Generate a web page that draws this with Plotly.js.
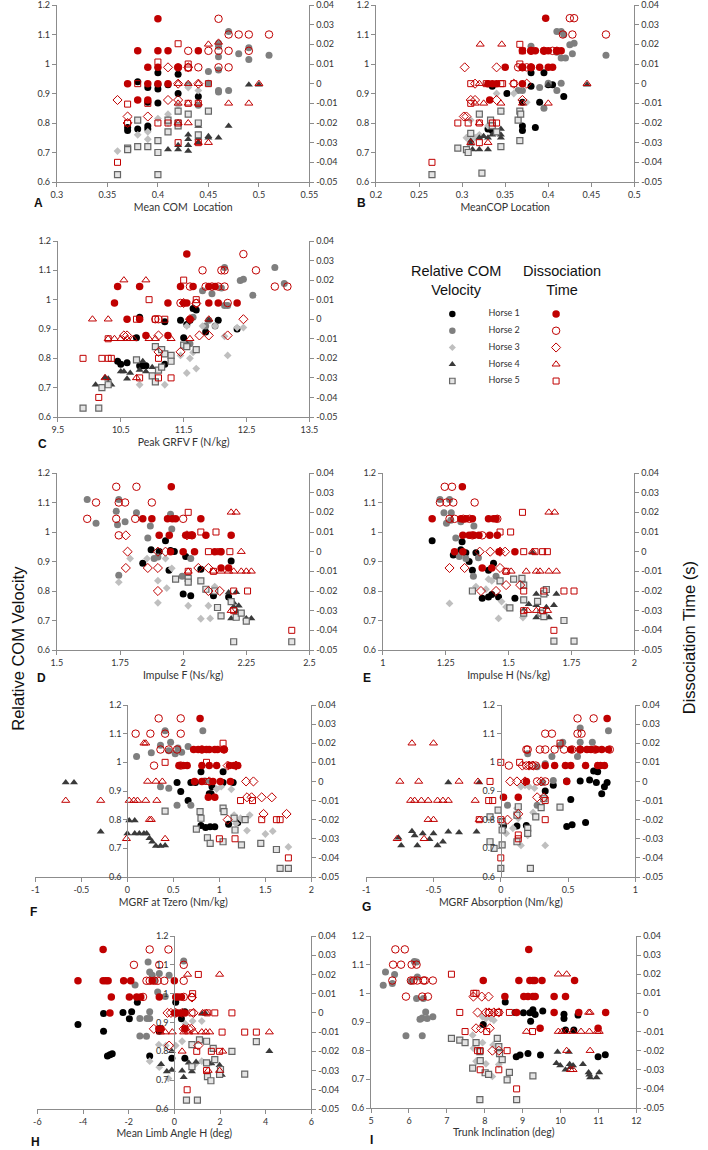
<!DOCTYPE html>
<html>
<head>
<meta charset="utf-8">
<script src="https://cdn.plot.ly/plotly-3.0.1.min.js"></script>
<style>
  html, body { margin: 0; padding: 0; background: #fff; }
  #chart { width: 708px; height: 1150px; }
</style>
</head>
<body>
<div id="chart"></div>
<script>
'use strict';

// --- data: flat x,y pairs, one list per horse (Horse 1..5) ---
const horses = ['Horse 1', 'Horse 2', 'Horse 3', 'Horse 4', 'Horse 5'];
const xTitles = ['Mean COM  Location', 'MeanCOP Location', 'Peak GRFV F (N/kg)', 'Impulse F (Ns/kg)',
  'Impulse H (Ns/kg)', 'MGRF at Tzero (Nm/kg)', 'MGRF Absorption (Nm/kg)', 'Mean Limb Angle H (deg)',
  'Trunk Inclination (deg)'];
const letters = ['A', 'B', 'C', 'D', 'E', 'F', 'G', 'H', 'I'];

// relative COM velocity (left axis)
const velA = [
  [0.37,0.775, 0.37,0.785, 0.38,0.78, 0.38,0.94, 0.39,0.92, 0.39,0.79, 0.39,0.78, 0.40,0.97, 0.40,0.93, 0.40,0.915, 0.40,0.868, 0.41,0.93, 0.42,0.965, 0.42,0.90, 0.44,0.89, 0.39,0.87],
  [0.43,0.93, 0.44,0.86, 0.45,0.935, 0.45,0.975, 0.46,1.07, 0.46,1.06, 0.46,1.025, 0.46,0.98, 0.46,0.91, 0.46,0.905, 0.47,1.11, 0.47,0.91, 0.48,1.035, 0.49,1.055, 0.49,1.015, 0.51,1.03],
  [0.36,0.705, 0.38,0.76, 0.39,0.77, 0.39,0.745, 0.40,0.815, 0.41,0.83, 0.42,0.86, 0.43,0.92, 0.44,0.91, 0.41,0.80, 0.42,0.80],
  [0.41,0.71, 0.42,0.725, 0.42,0.71, 0.43,0.76, 0.43,0.745, 0.43,0.725, 0.43,0.705, 0.44,0.79, 0.44,0.75, 0.44,0.735, 0.45,0.755, 0.45,0.75, 0.46,0.75, 0.47,0.79, 0.49,0.93, 0.50,0.93],
  [0.36,0.625, 0.37,0.715, 0.37,0.71, 0.38,0.81, 0.38,0.72, 0.39,0.72, 0.40,0.74, 0.40,0.70, 0.40,0.625, 0.41,0.81, 0.41,0.77, 0.42,0.84, 0.42,0.80, 0.42,0.79, 0.43,0.83, 0.44,0.80, 0.44,0.76, 0.45,0.84]
];
const velB = [
  [0.335,0.925, 0.352,0.90, 0.37,0.87, 0.37,0.79, 0.37,0.775, 0.38,0.97, 0.38,0.925, 0.385,0.785, 0.39,0.87, 0.395,0.97, 0.40,0.93, 0.405,0.93, 0.418,0.89, 0.33,0.78, 0.335,0.775],
  [0.40,0.935, 0.41,1.11, 0.415,1.11, 0.418,1.10, 0.41,1.04, 0.415,1.02, 0.42,1.02, 0.425,1.065, 0.43,1.07, 0.428,1.035, 0.467,1.03, 0.39,0.92, 0.41,0.91, 0.415,0.935, 0.395,0.85, 0.38,1.06, 0.37,0.91, 0.365,0.91],
  [0.305,0.75, 0.31,0.81, 0.315,0.75, 0.34,0.90, 0.345,0.84, 0.36,0.90, 0.37,0.93, 0.375,0.87, 0.33,0.79, 0.32,0.76],
  [0.31,0.73, 0.312,0.71, 0.32,0.75, 0.32,0.71, 0.325,0.755, 0.33,0.75, 0.33,0.71, 0.335,0.76, 0.345,0.78, 0.345,0.76, 0.345,0.75, 0.40,0.93, 0.445,0.93, 0.31,0.74],
  [0.265,0.625, 0.295,0.715, 0.305,0.71, 0.307,0.70, 0.31,0.765, 0.32,0.83, 0.323,0.63, 0.333,0.81, 0.335,0.79, 0.34,0.77, 0.345,0.84, 0.345,0.72, 0.365,0.81, 0.367,0.74, 0.367,0.84, 0.368,0.83]
];
const velC = [
  [10.45,0.79, 10.5,0.78, 10.6,0.785, 10.8,0.94, 10.75,0.87, 10.8,0.775, 10.85,0.775, 10.9,0.775, 11.2,0.925, 11.2,0.78, 11.45,0.93, 11.5,0.87, 11.55,0.915, 11.6,0.93, 11.65,0.97, 11.7,0.965, 11.85,0.89, 12.05,0.93, 12.35,0.90],
  [11.6,0.85, 11.65,0.94, 11.8,1.03, 11.85,0.91, 11.9,0.93, 11.95,1.02, 12.0,0.91, 12.1,1.04, 12.15,0.98, 12.15,1.11, 12.2,0.98, 12.4,1.065, 12.45,1.07, 12.6,1.015, 12.95,1.11, 13.1,1.055],
  [10.8,0.71, 11.2,0.71, 11.45,0.81, 11.55,0.75, 11.6,0.80, 11.65,0.82, 11.7,0.765, 11.8,0.91, 12.0,0.91, 12.15,0.875, 12.2,0.81, 12.35,0.905, 12.45,0.905, 11.55,0.91],
  [10.1,0.71, 10.25,0.735, 10.3,0.73, 10.3,0.715, 10.35,0.71, 10.5,0.755, 10.55,0.755, 10.6,0.73, 10.65,0.75, 10.8,0.76, 10.85,0.79, 10.9,0.755, 11.0,0.77, 11.9,0.93, 11.55,0.85],
  [9.9,0.63, 10.15,0.63, 10.2,0.70, 10.3,0.71, 10.75,0.795, 11.0,0.74, 11.05,0.72, 11.05,0.84, 11.1,0.76, 11.15,0.83, 11.15,0.77, 11.2,0.815, 11.3,0.81, 11.3,0.79, 11.5,0.845, 11.7,0.83, 11.55,0.84]
];
const velD = [
  [1.84,0.894, 1.873,0.94, 1.905,0.934, 1.93,0.97, 1.944,0.87, 1.95,0.937, 1.965,0.934, 2.0,0.79, 2.01,0.917, 2.03,0.784, 2.07,0.874, 2.12,0.784, 2.18,0.78, 2.19,0.902],
  [1.62,1.11, 1.655,1.03, 1.735,1.07, 1.745,1.11, 1.74,1.025, 1.745,0.853, 1.77,1.035, 1.815,1.065, 1.87,1.02, 1.86,0.98, 1.885,0.91, 1.9,0.915, 1.95,1.06, 1.955,1.01, 1.996,0.85, 2.03,0.91],
  [1.745,0.83, 1.79,0.91, 1.857,0.91, 1.9,0.835, 1.9,0.76, 1.93,0.91, 1.935,0.81, 1.955,0.877, 2.02,0.75, 2.07,0.706, 2.107,0.707, 2.1,0.75, 2.125,0.815],
  [2.18,0.795, 2.2,0.76, 2.21,0.796, 2.2,0.747, 2.22,0.75, 2.19,0.707, 2.25,0.707, 2.27,0.707, 2.215,0.73],
  [1.97,0.84, 2.02,0.843, 2.02,0.83, 2.07,0.834, 2.09,0.806, 2.125,0.80, 2.136,0.744, 2.15,0.716, 2.19,0.764, 2.2,0.628, 2.21,0.711, 2.23,0.725, 2.25,0.698, 2.43,0.628]
];
const velE = [
  [1.196,0.97, 1.28,0.922, 1.315,0.967, 1.31,0.94, 1.33,0.93, 1.343,0.90, 1.356,0.87, 1.37,0.93, 1.395,0.775, 1.42,0.78, 1.433,0.788, 1.44,0.894, 1.46,0.78, 1.525,0.775, 1.42,0.87],
  [1.227,1.11, 1.243,1.065, 1.265,1.11, 1.272,1.065, 1.253,1.03, 1.27,1.04, 1.29,0.98, 1.304,0.917, 1.33,0.91, 1.36,0.85, 1.362,1.02, 1.38,0.913, 1.45,0.85, 1.31,1.035],
  [1.265,0.758, 1.37,0.815, 1.41,0.806, 1.433,0.834, 1.46,0.707, 1.472,0.764, 1.49,0.746, 1.557,0.71, 1.42,0.84],
  [1.56,0.735, 1.58,0.755, 1.61,0.79, 1.61,0.752, 1.61,0.71, 1.645,0.79, 1.65,0.745, 1.66,0.71, 1.68,0.752, 1.69,0.79, 1.595,0.93],
  [1.356,0.80, 1.466,0.834, 1.505,0.743, 1.52,0.84, 1.553,0.843, 1.56,0.82, 1.56,0.77, 1.615,0.765, 1.628,0.725, 1.64,0.79, 1.65,0.805, 1.64,0.713, 1.68,0.63, 1.72,0.70, 1.76,0.63, 1.56,0.725]
];
const velF = [
  [0.54,0.93, 0.58,0.898, 0.66,0.867, 0.69,0.93, 0.74,0.93, 0.80,0.967, 0.80,0.78, 0.85,0.773, 0.90,0.775, 0.95,0.775, 0.91,0.89, 0.92,0.915, 1.04,0.967, 1.04,0.93, 1.10,0.784, 1.20,0.79, 1.15,0.93, 0.89,0.89],
  [0.10,1.02, 0.26,1.033, 0.41,1.11, 0.36,1.06, 0.45,1.04, 0.47,1.07, 0.52,1.03, 0.55,1.05, 0.54,0.85, 0.66,1.055, 0.82,1.11, 0.69,0.85, 0.36,0.915, 0.45,0.91, 0.84,0.935, 0.91,0.933, 0.59,1.035],
  [0.97,0.907, 1.02,0.915, 1.13,0.906, 1.16,0.816, 1.18,0.787, 1.30,0.762, 1.33,0.816, 1.50,0.75, 1.58,0.76, 1.75,0.705, 1.23,0.805],
  [-0.67,0.93, -0.58,0.93, -0.29,0.758, 0.02,0.797, 0.08,0.797, 0.0,0.752, 0.08,0.752, 0.13,0.752, 0.18,0.752, 0.21,0.752, 0.27,0.723, 0.31,0.708, 0.36,0.708, 0.41,0.71, 0.24,0.735],
  [0.41,0.83, 0.75,0.767, 0.79,0.828, 0.80,0.805, 0.87,0.737, 0.90,0.717, 1.04,0.723, 1.04,0.84, 1.16,0.805, 1.17,0.764, 1.24,0.712, 1.28,0.80, 1.45,0.717, 1.62,0.696, 1.66,0.63, 1.75,0.63, 1.05,0.828]
];
const velG = [
  [0.33,0.90, 0.39,0.92, 0.49,0.935, 0.59,0.935, 0.66,0.938, 0.71,0.93, 0.69,0.97, 0.72,0.967, 0.75,0.89, 0.77,0.915, 0.79,0.93, 0.52,0.87, 0.49,0.776, 0.53,0.782, 0.63,0.79, 0.19,0.78, 0.12,0.778, 0.02,0.778],
  [0.20,1.03, 0.27,0.985, 0.33,0.995, 0.38,1.02, 0.44,1.06, 0.46,1.07, 0.59,1.12, 0.59,1.07, 0.68,1.07, 0.80,1.11, 0.05,0.85, 0.27,0.85, 0.31,0.93, 0.39,0.937, 0.57,1.02],
  [0.04,0.752, 0.09,0.77, 0.12,0.84, 0.15,0.915, 0.18,0.92, 0.21,0.915, 0.13,0.805, 0.20,0.745, 0.24,0.825, 0.15,0.71, 0.33,0.71, 0.25,0.91],
  [-0.76,0.737, -0.74,0.71, -0.66,0.76, -0.64,0.745, -0.62,0.71, -0.58,0.752, -0.53,0.732, -0.50,0.752, -0.47,0.71, -0.43,0.723, -0.39,0.758, -0.31,0.755, -0.18,0.758, -0.39,0.93, -0.16,0.93],
  [-0.08,0.81, -0.08,0.723, -0.05,0.70, -0.02,0.833, 0.01,0.793, 0.01,0.764, 0.01,0.712, 0.12,0.723, 0.12,0.816, 0.13,0.845, 0.20,0.77, 0.20,0.752, 0.26,0.81, 0.30,0.842, 0.32,0.873, 0.44,0.844, 0.0,0.63, 0.22,0.63]
];
const velH = [
  [-4.22,0.893, -3.1,0.931, -3.1,0.87, -2.93,0.784, -2.82,0.788, -2.72,0.792, -2.25,0.935, -1.97,0.913, -1.87,0.937, -1.62,0.97, -1.08,0.784, -0.66,0.87, -0.11,0.776, 0.06,0.97, 0.46,0.776, 0.46,0.937, 0.31,0.913],
  [-1.15,1.11, -1.08,1.075, -0.97,1.064, -0.87,1.046, -1.72,1.03, -1.51,0.914, -1.2,0.914, -1.08,0.914, -1.51,0.853, -1.22,0.852, -1.08,0.937, -0.73,1.006, -0.4,0.99, 0.41,1.113, -0.23,1.064, -0.66,1.07],
  [-0.68,0.823, -1.08,0.766, -0.66,0.745, -0.37,0.82, 0.06,0.82, 0.34,0.835, 0.48,0.895, 0.8,0.905, 1.2,0.905, 0.91,0.755, 1.2,0.766, -0.26,0.706],
  [-0.11,0.80, -0.58,0.755, -0.33,0.73, -0.11,0.735, 0.34,0.733, 0.41,0.71, 0.63,0.76, 0.95,0.763, 0.77,0.73, 1.22,0.93, 1.37,0.93, 1.48,0.758, 1.62,0.758, 1.98,0.752, 2.08,0.718, 4.16,0.80, 0.34,0.93],
  [0.77,0.823, 1.1,0.84, 1.41,0.835, 1.41,0.76, 1.45,0.712, 1.6,0.698, 1.7,0.81, 1.77,0.771, 1.98,0.72, 2.02,0.737, 2.52,0.80, 3.08,0.721, 3.59,0.834, 0.53,0.631, 1.01,0.631, 0.77,0.747]
];
const velI = [
  [8.54,0.97, 7.96,0.891, 8.8,0.933, 9.02,0.932, 9.19,0.932, 9.21,0.903, 9.27,0.943, 9.33,0.926, 9.53,0.938, 8.83,0.779, 8.93,0.785, 9.14,0.79, 9.47,0.785, 10.09,0.927, 10.09,0.912, 10.13,0.872, 10.35,0.872, 10.46,0.924, 10.99,0.779, 11.18,0.786],
  [5.32,1.028, 5.38,1.074, 5.56,1.034, 5.62,1.066, 5.92,0.852, 6.05,1.042, 6.14,1.111, 6.2,1.109, 6.22,1.057, 6.2,0.982, 6.38,0.982, 6.35,0.852, 6.35,0.914, 6.44,0.935, 6.48,0.912, 6.63,0.918, 6.29,0.91],
  [7.68,0.854, 7.94,0.828, 8.03,0.912, 8.16,0.912, 8.22,0.82, 7.94,0.918, 8.03,0.754, 8.2,0.71, 7.77,0.763, 8.37,0.752, 7.7,0.808, 8.24,0.906],
  [9.92,0.795, 9.89,0.756, 9.99,0.748, 10.13,0.733, 10.22,0.795, 10.24,0.753, 10.33,0.748, 10.59,0.753, 10.74,0.724, 10.78,0.706, 10.95,0.706, 11.02,0.724, 10.26,0.742, 10.76,0.716],
  [7.12,0.843, 7.34,0.837, 7.48,0.828, 7.68,0.739, 7.77,0.828, 7.87,0.797, 7.88,0.765, 7.87,0.629, 8.01,0.723, 8.1,0.717, 8.37,0.814, 8.39,0.79, 8.46,0.769, 8.65,0.724, 8.59,0.698, 8.84,0.629, 9.27,0.712, 8.33,0.843]
];

// dissociation time in s (right axis)
const dtA = [
  [0.40,0.033, 0.38,0.0167, 0.40,0.0167, 0.41,0.0167, 0.44,0.0167, 0.39,0.0083, 0.40,0.0083, 0.42,0.0083, 0.37,0, 0.39,0, 0.40,0, 0.41,0, 0.38,-0.0083, 0.39,-0.0083],
  [0.46,0.033, 0.47,0.025, 0.48,0.025, 0.49,0.025, 0.51,0.025, 0.43,0.0167, 0.45,0.0167, 0.46,0.0167, 0.47,0.0167, 0.49,0.0167, 0.42,0.0083, 0.43,0.0083, 0.44,0.0083, 0.46,0.0083, 0.47,0.0083],
  [0.36,-0.0083, 0.37,-0.0167, 0.37,-0.02, 0.39,-0.0167, 0.41,0.0083, 0.42,0, 0.41,-0.0083, 0.42,-0.0083, 0.44,0, 0.43,0.0083],
  [0.45,0.02, 0.46,0.021, 0.42,0, 0.43,0, 0.44,0, 0.47,-0.01, 0.49,-0.01, 0.42,-0.01, 0.43,-0.01, 0.44,-0.01, 0.42,-0.02, 0.43,-0.02, 0.45,-0.03, 0.44,-0.03, 0.50,0],
  [0.42,0.0203, 0.40,0.011, 0.43,0.01, 0.43,0.008, 0.37,-0.0104, 0.36,-0.04, 0.38,0, 0.39,-0.01, 0.40,-0.02, 0.41,-0.02, 0.42,-0.02, 0.42,-0.03, 0.43,-0.01, 0.44,-0.03, 0.45,0, 0.44,-0.01, 0.37,-0.02]
];
const dtB = [
  [0.397,0.0333, 0.37,0.0167, 0.38,0.0167, 0.385,0.0167, 0.395,0.0167, 0.40,0.0167, 0.41,0.0167, 0.415,0.0167, 0.35,0.0083, 0.37,0.0083, 0.38,0.0083, 0.39,0.0083, 0.40,0.0083, 0.405,0.0083, 0.33,0, 0.335,0, 0.34,0, 0.37,0, 0.332,-0.0083],
  [0.425,0.0333, 0.43,0.0333, 0.417,0.025, 0.428,0.025, 0.467,0.025, 0.38,0.0167, 0.395,0.0167, 0.405,0.0167, 0.41,0.0167, 0.37,0.0083, 0.375,0.0083, 0.38,0.0083, 0.365,0.0083],
  [0.303,0.0083, 0.34,0.0083, 0.315,0, 0.36,0, 0.31,-0.0083, 0.315,-0.0083, 0.34,-0.0083, 0.302,-0.0167, 0.305,-0.0167, 0.37,-0.0083, 0.375,0],
  [0.321,0.02, 0.346,0.02, 0.32,0, 0.33,0, 0.315,-0.01, 0.325,-0.01, 0.345,-0.01, 0.37,-0.01, 0.40,-0.01, 0.31,-0.03, 0.33,-0.03, 0.445,0, 0.32,-0.02],
  [0.265,-0.04, 0.295,-0.02, 0.307,-0.02, 0.31,-0.01, 0.32,-0.02, 0.32,-0.03, 0.328,0, 0.335,-0.02, 0.345,0, 0.347,0, 0.36,0, 0.367,0.01, 0.367,0.02, 0.37,0.0167, 0.31,0, 0.34,-0.02]
];
const dtC = [
  [11.55,0.0333, 10.45,0.0167, 10.8,0.0167, 11.45,0.0167, 11.65,0.0167, 11.9,0.0167, 12.0,0.0167, 10.4,0.0083, 11.25,0.0083, 11.5,0.0083, 11.55,0.0083, 11.9,0.0083, 12.05,0.0083, 12.35,0.0083, 10.6,0, 10.8,0, 11.6,0, 10.9,-0.0083, 11.25,-0.0083],
  [12.45,0.0333, 11.8,0.025, 12.1,0.025, 12.15,0.025, 12.65,0.025, 11.6,0.0167, 11.85,0.0167, 11.95,0.0167, 12.05,0.0167, 12.15,0.0167, 12.95,0.0167, 13.15,0.0167, 11.45,0.0083, 11.7,0.0083, 12.2,0.0083, 11.05,0, 11.1,0],
  [10.55,-0.0083, 10.6,-0.0083, 11.1,-0.0083, 11.1,-0.0167, 11.45,-0.0167, 11.75,-0.0083, 11.9,-0.0083, 12.2,-0.0083, 12.45,0, 11.6,0, 11.7,0.008, 11.5,0.0083],
  [10.05,0, 10.3,0, 10.55,0.02, 10.9,0.02, 10.3,-0.01, 10.4,-0.01, 10.5,-0.01, 10.6,-0.01, 10.7,-0.01, 10.95,-0.01, 11.05,-0.01, 11.3,-0.01, 11.6,-0.01, 10.25,-0.03, 10.75,-0.03, 11.9,0],
  [9.9,-0.02, 10.15,-0.04, 10.2,-0.02, 10.3,-0.02, 10.35,-0.02, 10.3,-0.01, 10.75,0, 10.95,0.01, 11.05,0, 11.1,-0.02, 11.1,-0.03, 11.3,-0.03, 11.5,0.02, 11.7,0.01, 11.2,0, 10.8,-0.03]
];
const dtD = [
  [1.953,0.033, 1.84,0.0167, 1.876,0.0167, 1.938,0.0167, 1.957,0.0167, 1.97,0.0167, 2.07,0.0167, 1.905,0.0083, 1.945,0.0083, 2.01,0.0083, 2.025,0.0083, 2.035,0.0083, 2.09,0.0083, 2.19,0.0083, 1.95,0, 2.0,0, 2.045,0, 2.125,0, 2.15,0, 2.15,-0.0083, 2.18,-0.0083],
  [1.62,0.0167, 1.655,0.025, 1.735,0.033, 1.815,0.033, 1.745,0.025, 1.77,0.025, 1.876,0.025, 1.735,0.0167, 1.81,0.0167, 1.745,0.0083, 2.0,0.0167, 2.035,0.0083],
  [1.773,0.0083, 1.78,0, 1.773,-0.0083, 1.86,-0.0083, 1.9,-0.0083, 1.93,0, 1.9,-0.02, 2.015,0.0083, 2.06,-0.0083, 2.1,-0.0083, 2.1,-0.02, 2.145,-0.02, 1.9,0],
  [2.19,0.02, 2.21,0.02, 2.23,0, 2.12,-0.01, 2.15,-0.01, 2.18,-0.01, 2.2,-0.01, 2.23,-0.01, 2.25,-0.01, 2.27,-0.01, 2.19,-0.03, 2.02,-0.01],
  [2.02,0.02, 2.07,0.01, 2.13,0.01, 2.1,0, 2.145,0, 2.185,0, 2.12,-0.01, 2.2,-0.02, 2.255,-0.02, 2.2,-0.03, 2.43,-0.04, 2.02,-0.01]
];
const dtE = [
  [1.316,0.033, 1.196,0.0167, 1.31,0.0167, 1.33,0.0167, 1.356,0.0167, 1.42,0.0167, 1.44,0.0167, 1.45,0.0167, 1.318,0.0083, 1.343,0.0083, 1.362,0.0083, 1.382,0.0083, 1.425,0.0083, 1.455,0.0083, 1.285,0, 1.318,0, 1.462,0, 1.525,0, 1.395,-0.0083, 1.433,-0.0083],
  [1.246,0.033, 1.275,0.033, 1.227,0.025, 1.253,0.025, 1.28,0.025, 1.365,0.025, 1.265,0.0167, 1.285,0.0167, 1.32,0.0167, 1.345,0.0167, 1.455,0.0167, 1.356,0.0083, 1.395,0.0083],
  [1.265,-0.0083, 1.325,-0.0083, 1.385,0, 1.427,0, 1.466,0, 1.486,0, 1.466,-0.0083, 1.49,-0.017, 1.546,-0.017, 1.39,-0.02, 1.45,-0.02],
  [1.66,0.02, 1.683,0.02, 1.595,0, 1.49,-0.01, 1.51,-0.01, 1.57,-0.01, 1.61,-0.01, 1.625,-0.01, 1.66,-0.01, 1.69,-0.01, 1.576,-0.03, 1.61,-0.03, 1.655,-0.03],
  [1.555,0.02, 1.466,0.01, 1.508,0.01, 1.56,0, 1.605,0, 1.635,0, 1.654,0, 1.49,-0.01, 1.56,-0.02, 1.64,-0.02, 1.72,-0.02, 1.76,-0.02, 1.68,-0.04, 1.56,-0.03, 1.635,-0.03]
];
const dtF = [
  [0.79,0.033, 0.72,0.0167, 0.77,0.0167, 0.81,0.0167, 0.86,0.0167, 0.89,0.0167, 0.95,0.0167, 0.98,0.0167, 1.05,0.0167, 0.56,0.0083, 0.61,0.0083, 0.65,0.0083, 0.81,0.0083, 0.89,0.0083, 0.97,0.0083, 1.11,0.0083, 1.16,0.0083, 1.2,0.0083, 0.73,0, 0.81,0, 0.93,0, 1.01,0, 1.12,0, 0.88,-0.0083, 0.95,-0.0083],
  [0.34,0.033, 0.58,0.033, 0.09,0.025, 0.25,0.025, 0.41,0.025, 0.58,0.025, 0.36,0.0167, 0.45,0.0167, 0.54,0.0167, 0.81,0.0167, 1.05,0.0167, 0.29,0.0083, 0.58,0.0083],
  [0.89,0, 1.09,0.0083, 1.18,0.0083, 1.29,0, 1.37,0, 1.3,-0.0083, 1.35,-0.0083, 1.46,-0.0083, 1.57,-0.0083, 1.48,-0.017, 1.73,-0.017, 1.09,-0.02],
  [0.18,0.02, 0.2,0.02, -0.67,-0.01, -0.29,-0.01, 0.02,-0.01, 0.07,-0.01, 0.11,-0.01, 0.2,-0.01, 0.22,0, 0.31,0, 0.38,0, 0.24,-0.02, 0.26,-0.02, -0.01,-0.03, 0.41,-0.03, 0.32,-0.01],
  [1.04,0.02, 0.86,0.01, 0.41,0.01, 1.23,-0.01, 1.36,-0.01, 1.46,-0.02, 1.62,-0.02, 1.66,-0.02, 0.87,0, 1.0,-0.03, 1.17,-0.03, 1.75,-0.04]
];
const dtG = [
  [0.79,0.033, 0.52,0.0167, 0.59,0.0167, 0.64,0.0167, 0.67,0.0167, 0.71,0.0167, 0.75,0.0167, 0.80,0.0167, 0.33,0.0083, 0.40,0.0083, 0.48,0.0083, 0.52,0.0083, 0.63,0.0083, 0.72,0.0083, 0.74,0.0083, 0.77,0.0083, 0.19,0, 0.49,0, 0.02,-0.0083, 0.13,-0.0083],
  [0.57,0.033, 0.69,0.033, 0.33,0.025, 0.38,0.025, 0.57,0.025, 0.60,0.025, 0.19,0.0167, 0.20,0.0167, 0.29,0.0167, 0.33,0.0167, 0.40,0.0167, 0.47,0.0167, 0.53,0.0167, 0.59,0.0167, 0.70,0.0167, 0.81,0.0167, 0.06,0.0083, 0.19,0.0083, 0.23,0.0083, 0.26,0.0083, 0.27,0, 0.33,0],
  [0.07,0, 0.12,0, 0.16,0.0083, 0.21,0.0083, 0.24,0.0083, 0.30,0, 0.27,-0.0083, 0.32,-0.0083, 0.13,-0.017, 0.05,-0.02, 0.18,0],
  [-0.66,0.02, -0.50,0.02, -0.75,0, -0.61,0, -0.31,0, -0.17,0, -0.67,-0.01, -0.64,-0.01, -0.59,-0.01, -0.54,-0.01, -0.47,-0.01, -0.43,-0.01, -0.39,-0.01, -0.19,-0.01, -0.54,-0.02, -0.50,-0.02, -0.77,-0.03, -0.57,-0.03, -0.16,-0.02],
  [0.0,0.01, 0.14,0.01, -0.08,0, 0.44,0.02, -0.09,-0.01, -0.06,-0.01, 0.0,-0.02, 0.13,-0.03, 0.13,-0.028, 0.33,-0.01, 0.33,-0.02, 0.0,-0.04, -0.16,-0.02]
];
const dtH = [
  [-3.12,0.033, -4.22,0.0167, -3.12,0.0167, -3.0,0.0167, -2.9,0.0167, -2.22,0.0167, -1.91,0.0167, -0.97,0.0167, 0.0,0.0167, -2.76,0.0083, -1.97,0.0083, -1.65,0.0083, -1.47,0.0083, -0.66,0.0083, 0.06,0.0083, 0.17,0.0083, 0.31,0.0083, -2.82,0, 0.0,0, 0.13,0, 0.27,0, 0.46,0, -0.68,-0.0083, -0.58,-0.0083, 0.46,-0.0083],
  [-1.08,0.033, -0.26,0.033, -1.77,0.025, 0.41,0.025, -0.66,0.025, -1.22,0.0167, -1.08,0.0167, -0.87,0.0167, -0.73,0.0167, -0.44,0.0167, 0.41,0.0167, -1.37,0.0083, 0.41,0.0083, 0.77,0.0083],
  [-0.3,0, -0.15,0, 0.06,0, 0.34,0, 0.84,0, -0.9,-0.0083, 0.41,-0.0083, 0.63,-0.0083, 0.74,-0.0083, -0.23,-0.017, 1.05,-0.017, 0.77,0.008],
  [0.58,0.02, 1.98,0.02, -0.61,-0.01, -0.4,-0.01, -0.09,-0.01, 0.41,-0.01, 0.63,-0.01, 0.88,-0.01, 1.2,-0.01, 1.38,-0.01, 1.55,-0.01, 4.16,-0.01, 0.34,-0.02, 2.12,-0.02, 1.24,0, 1.41,0, 1.48,-0.03, 1.98,-0.03],
  [1.05,0.02, 0.8,0.01, 1.77,0, 2.52,0, 1.44,0, 0.77,0, 0.98,-0.02, 1.98,-0.02, 2.09,-0.01, 3.08,-0.01, 3.59,-0.01, 0.56,-0.04, 1.41,-0.03, 1.62,-0.02]
];
const dtI = [
  [9.16,0.033, 7.96,0.0167, 8.9,0.0167, 9.19,0.0167, 9.27,0.0167, 9.32,0.0167, 9.51,0.0167, 10.37,0.0167, 8.53,0.0083, 9.03,0.0083, 9.14,0.0083, 9.27,0.0083, 9.33,0.0083, 9.83,0.0083, 10.13,0.0083, 8.84,0, 9.83,0, 10.48,0, 11.19,0, 9.46,-0.0083, 10.99,-0.0083],
  [5.64,0.033, 5.89,0.033, 5.58,0.025, 5.79,0.025, 6.07,0.025, 6.2,0.025, 5.56,0.0167, 6.05,0.0167, 6.12,0.0167, 6.22,0.0167, 6.38,0.0167, 6.42,0.0167, 6.63,0.0167, 5.92,0.0083, 6.35,0.0083, 6.5,0.0083],
  [7.7,0.0083, 7.92,0.0083, 8.1,0.0083, 7.81,0, 8.03,0, 8.11,0, 8.24,0, 8.37,0, 7.77,-0.0083, 8.13,-0.0083, 8.2,-0.02, 8.37,-0.02, 7.9,-0.0083],
  [9.94,0.02, 10.16,0.02, 9.1,-0.01, 9.94,-0.01, 10.04,-0.01, 10.16,-0.01, 10.33,-0.01, 10.54,-0.01, 10.76,-0.01, 10.97,-0.01, 11.02,-0.01, 10.78,0, 10.74,0, 10.16,-0.02, 10.78,-0.02, 10.26,-0.03, 10.33,-0.03],
  [7.12,0.02, 7.71,0.01, 7.77,0.01, 7.34,0, 7.48,-0.01, 8.05,-0.01, 7.81,-0.02, 7.88,-0.02, 8.59,-0.02, 7.88,-0.03, 8.37,-0.03, 8.84,-0.04, 8.11,0, 8.37,0, 8.65,0, 9.26,-0.01, 8.33,0]
];

const velSets = [velA, velB, velC, velD, velE, velF, velG, velH, velI];
const dtSets = [dtA, dtB, dtC, dtD, dtE, dtF, dtG, dtH, dtI];
const xRanges = [[0.3, 0.55], [0.2, 0.5], [9.5, 13.5], [1.5, 2.5], [1, 2], [-1, 2], [-1, 1], [-6, 6], [5, 12]];
const xSteps = [0.05, 0.05, 1, 0.25, 0.25, 0.5, 0.5, 2, 1];
const velRange = [0.6, 1.2];
const dtRange = [-0.05, 0.04];

// --- page geometry (px) ---
const W = 708, H = 1150;
const boxes = [
  {x: [52, 310], y: [5, 182], letter: [33, 203], cross: false},
  {x: [378, 642], y: [5, 182], letter: [363, 203], cross: false},
  {x: [53, 310], y: [241, 417], letter: [37, 444], cross: false},
  {x: [52, 310], y: [473, 650], letter: [36, 678], cross: false},
  {x: [385, 642], y: [473, 650], letter: [369, 678], cross: false},
  {x: [30, 312], y: [705, 877], letter: [28, 912], cross: true},
  {x: [368, 643], y: [705, 877], letter: [368, 907], cross: true},
  {x: [32, 312], y: [936, 1109], letter: [30, 1142], cross: true},
  {x: [373, 644], y: [936, 1108], letter: [373, 1140], cross: false}
];

const RED = '#c00000';
const velMarkers = [
  {symbol: 'circle', size: 7, color: '#000000'},
  {symbol: 'circle', size: 7, color: '#7f7f7f'},
  {symbol: 'diamond', size: 6, color: '#bfbfbf'},
  {symbol: 'triangle-up', size: 7, color: '#3a3a3a'},
  {symbol: 'square', size: 6, color: '#e4e4e4', line: {color: '#666666', width: 1.2}}
];
const dtMarkers = [
  {symbol: 'circle', size: 7.5, color: RED},
  {symbol: 'circle-open', size: 7.5, color: RED, line: {width: 1}},
  {symbol: 'diamond-open', size: 7, color: RED, line: {width: 1}},
  {symbol: 'triangle-up-open', size: 7, color: RED, line: {width: 1}},
  {symbol: 'square-open', size: 6, color: RED, line: {width: 1}}
];

const tickFont = {family: 'Lato, "Open Sans", sans-serif', size: 9, color: '#333'};
const AXIS = '#8c8c8c';

function pairs(a) {
  const x = [], y = [];
  for (let i = 0; i < a.length; i += 2) {
    x.push(a[i]);
    y.push(a[i + 1]);
  }
  return {x, y};
}
const sfx = n => (n === 1 ? '' : String(n));

// tick positions with Excel-style labels (plain hyphen for negatives)
function ticks(lo, hi, step) {
  const vals = [];
  const n = Math.round((hi - lo) / step);
  for (let k = 0; k <= n; k++) vals.push(Math.round((lo + k * step) * 1e6) / 1e6);
  return {tickmode: 'array', tickvals: vals, ticktext: vals.map(String)};
}

const data = [];
const layout = {
  width: W, height: H,
  margin: {l: 0, r: 0, t: 0, b: 0},
  paper_bgcolor: '#fff', plot_bgcolor: 'rgba(0,0,0,0)',
  showlegend: false,
  annotations: []
};

boxes.forEach((b, i) => {
  const n = i + 1;
  const xr = xRanges[i];
  const xd = [b.x[0] / W, b.x[1] / W];
  const yd = [1 - b.y[1] / H, 1 - b.y[0] / H];
  const common = {
    showline: true, linecolor: AXIS, linewidth: 1,
    ticks: 'outside', ticklen: 4, tickcolor: AXIS, ticklabeloverflow: 'allow',
    tickfont: tickFont, showgrid: false, zeroline: false, fixedrange: true
  };

  layout['xaxis' + sfx(n)] = Object.assign({}, common, ticks(xr[0], xr[1], xSteps[i]), {
    domain: xd, range: xr, anchor: 'y' + sfx(n), automargin: true,
    title: {text: xTitles[i], font: {family: 'Lato, "Open Sans", sans-serif', size: 10.5, color: '#333'},
      standoff: n >= 8 ? 0 : 4}
  });

  const left = Object.assign({}, common, ticks(velRange[0], velRange[1], 0.1), {
    domain: yd, range: velRange
  });
  if (b.cross) {
    // y axis crosses the x axis at zero, as in the source figure
    left.anchor = 'free';
    left.position = xd[0] + (0 - xr[0]) / (xr[1] - xr[0]) * (xd[1] - xd[0]);
  } else {
    left.anchor = 'x' + sfx(n);
  }
  layout['yaxis' + sfx(n)] = left;

  layout['yaxis' + (n + 9)] = Object.assign({}, common, ticks(dtRange[0], dtRange[1], 0.01), {
    overlaying: 'y' + sfx(n), side: 'right', anchor: 'x' + sfx(n), range: dtRange
  });

  velSets[i].forEach((pts, h) => {
    const p = pairs(pts);
    data.push({
      type: 'scatter', mode: 'markers', x: p.x, y: p.y,
      xaxis: 'x' + sfx(n), yaxis: 'y' + sfx(n),
      marker: velMarkers[h], cliponaxis: false, hoverinfo: 'skip', name: horses[h]
    });
  });
  dtSets[i].forEach((pts, h) => {
    const p = pairs(pts);
    data.push({
      type: 'scatter', mode: 'markers', x: p.x, y: p.y,
      xaxis: 'x' + sfx(n), yaxis: 'y' + (n + 9),
      marker: dtMarkers[h], cliponaxis: false, hoverinfo: 'skip', name: horses[h]
    });
  });

  layout.annotations.push({
    text: '<b>' + letters[i] + '</b>', xref: 'paper', yref: 'paper',
    x: b.letter[0] / W, y: 1 - b.letter[1] / H, xanchor: 'center', yanchor: 'middle',
    showarrow: false, font: {family: 'Liberation Sans, Arial, sans-serif', size: 12, color: '#111'}
  });
});

// legend block: three columns on its own hidden axes
const legendCols = [0, 1, 2];
layout.xaxis10 = {domain: [456 / W, 562 / W], range: [0, 2], visible: false, fixedrange: true};
layout.yaxis19 = {domain: [1 - 389.4 / H, 1 - 305.6 / H], range: [4.5, -0.5], visible: false,
  type: 'category', categoryarray: horses, fixedrange: true};
horses.forEach((hn, h) => {
  data.push({type: 'scatter', mode: 'markers', x: [legendCols[0]], y: [hn], xaxis: 'x10', yaxis: 'y19',
    marker: Object.assign({}, velMarkers[h], {size: velMarkers[h].size - 0.5}), cliponaxis: false, hoverinfo: 'skip'});
  data.push({type: 'scatter', mode: 'markers', x: [legendCols[2]], y: [hn], xaxis: 'x10', yaxis: 'y19',
    marker: dtMarkers[h], cliponaxis: false, hoverinfo: 'skip'});
});
data.push({type: 'scatter', mode: 'text', x: horses.map(() => legendCols[1]), y: horses, text: horses,
  xaxis: 'x10', yaxis: 'y19', cliponaxis: false, hoverinfo: 'skip',
  textfont: {family: 'Lato, "Open Sans", sans-serif', size: 9, color: '#333'}});

const headFont = {family: 'Liberation Sans, Arial, sans-serif', size: 14.5, color: '#111'};
layout.annotations.push(
  {text: 'Relative COM<br>Velocity', xref: 'paper', yref: 'paper', x: 460 / W, y: 1 - 281 / H,
    xanchor: 'center', yanchor: 'middle', showarrow: false, font: headFont},
  {text: 'Dissociation<br>Time', xref: 'paper', yref: 'paper', x: 568 / W, y: 1 - 281 / H,
    xanchor: 'center', yanchor: 'middle', showarrow: false, font: headFont},
  {text: 'Relative COM Velocity', xref: 'paper', yref: 'paper', x: 12 / W, y: 1 - 648 / H,
    xanchor: 'center', yanchor: 'middle', textangle: -90, showarrow: false,
    font: {family: 'Liberation Sans, Arial, sans-serif', size: 16.5, color: '#111'}},
  {text: 'Dissociation Time (s)', xref: 'paper', yref: 'paper', x: 698 / W, y: 1 - 638 / H,
    xanchor: 'center', yanchor: 'middle', textangle: -90, showarrow: false,
    font: {family: 'Liberation Sans, Arial, sans-serif', size: 16.5, color: '#111'}}
);

Plotly.newPlot('chart', data, layout, {staticPlot: true, displayModeBar: false});
</script>
</body>
</html>
